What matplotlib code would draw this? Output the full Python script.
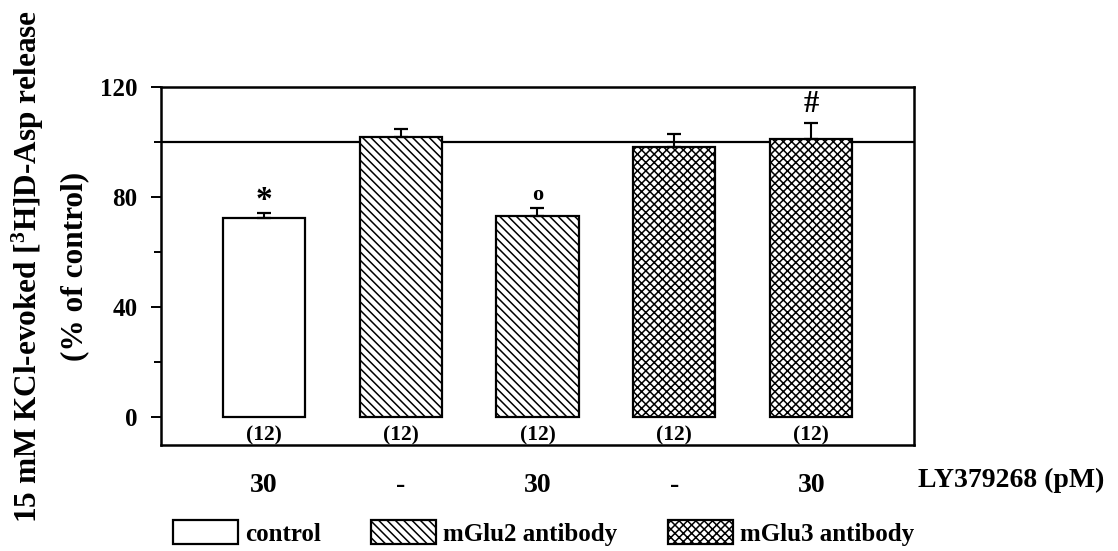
import matplotlib
matplotlib.use("Agg")
import matplotlib.pyplot as plt
from matplotlib.patches import Patch

plt.rcParams['font.family'] = ['Liberation Serif', 'DejaVu Serif']
plt.rcParams['font.weight'] = 'bold'
plt.rcParams['mathtext.fontset'] = 'custom'
plt.rcParams['mathtext.rm'] = 'Liberation Serif:bold'
plt.rcParams['mathtext.default'] = 'rm'
plt.rcParams['hatch.linewidth'] = 1.1

# data
conditions = ['30', '-', '30', '-', '30']
groups = ['control', 'mGlu2 antibody', 'mGlu2 antibody', 'mGlu3 antibody', 'mGlu3 antibody']
values = [72.3, 101.9, 73.1, 98.1, 101.0]
sem = [1.8, 2.9, 3.1, 5.0, 6.0]
n_labels = ['(12)'] * 5
marks = ['*', '', 'o', '', '#']

hatches = {'control': '', 'mGlu2 antibody': '\\\\\\\\', 'mGlu3 antibody': 'xxxx'}

fig = plt.figure(figsize=(11.18, 5.51), dpi=100)
ax = fig.add_axes([0.144, 0.1924, 0.6735, 0.6497])

x = list(range(len(values)))
ax.bar(x, values, width=0.6, color='white', edgecolor='black', linewidth=1.6,
       hatch=[hatches[g] for g in groups], zorder=3)
ax.errorbar(x, values, yerr=[[0] * len(sem), sem], fmt='none', ecolor='black',
            elinewidth=1.5, capsize=5, capthick=1.6, zorder=4)
ax.axhline(100, color='black', lw=1.6, zorder=2)

for xi, v, s, m, n in zip(x, values, sem, marks, n_labels):
    ax.text(xi, -6.5, n, ha='center', va='center', fontsize=15.5)
    if m == '*':
        ax.text(xi, v + s - 1.0, m, ha='center', va='bottom', fontsize=24)
    elif m == 'o':
        ax.text(xi, v + s + 1.0, m, ha='center', va='bottom', fontsize=16)
    elif m == '#':
        ax.text(xi, v + s + 1.2, m, ha='center', va='bottom', fontsize=22)

ax.set_xlim(-0.75, 4.75)
ax.set_ylim(-10, 120)
ax.set_yticks([0, 40, 80, 120])
ax.set_yticks([20, 60, 100], minor=True)
ax.tick_params(axis='y', which='major', labelsize=18, length=7, width=1.4, pad=10)
ax.tick_params(axis='y', which='minor', length=5, width=1.4)
ax.set_xticks(x)
ax.set_xticklabels(conditions, fontsize=20)
ax.tick_params(axis='x', length=0, pad=20)
for sp in ax.spines.values():
    sp.set_linewidth(1.8)

fig.text(918 / 1118, 1 - 480 / 551, 'LY379268 (pM)', fontsize=20, va='center', ha='left')

fig.text(28 / 1118, 1 - 266 / 551, '15 mM KCl-evoked [$^{3}$H]D-Asp release',
         rotation=90, fontsize=22.5, ha='center', va='center')
fig.text(75 / 1118, 1 - 266 / 551, '(% of control)', rotation=90, fontsize=22.5,
         ha='center', va='center')

handles = [Patch(facecolor='white', edgecolor='black', linewidth=1.6, hatch=hatches[g])
           for g in ['control', 'mGlu2 antibody', 'mGlu3 antibody']]
fig.legend(handles, ['control', 'mGlu2 antibody', 'mGlu3 antibody'], ncol=3,
           loc='center', bbox_to_anchor=(0.486, 1 - 533 / 551), frameon=False,
           fontsize=18, handlelength=2.6, handleheight=1.1, columnspacing=2.0,
           handletextpad=0.3, borderpad=0.1)

fig.savefig('out.png', dpi=100)
